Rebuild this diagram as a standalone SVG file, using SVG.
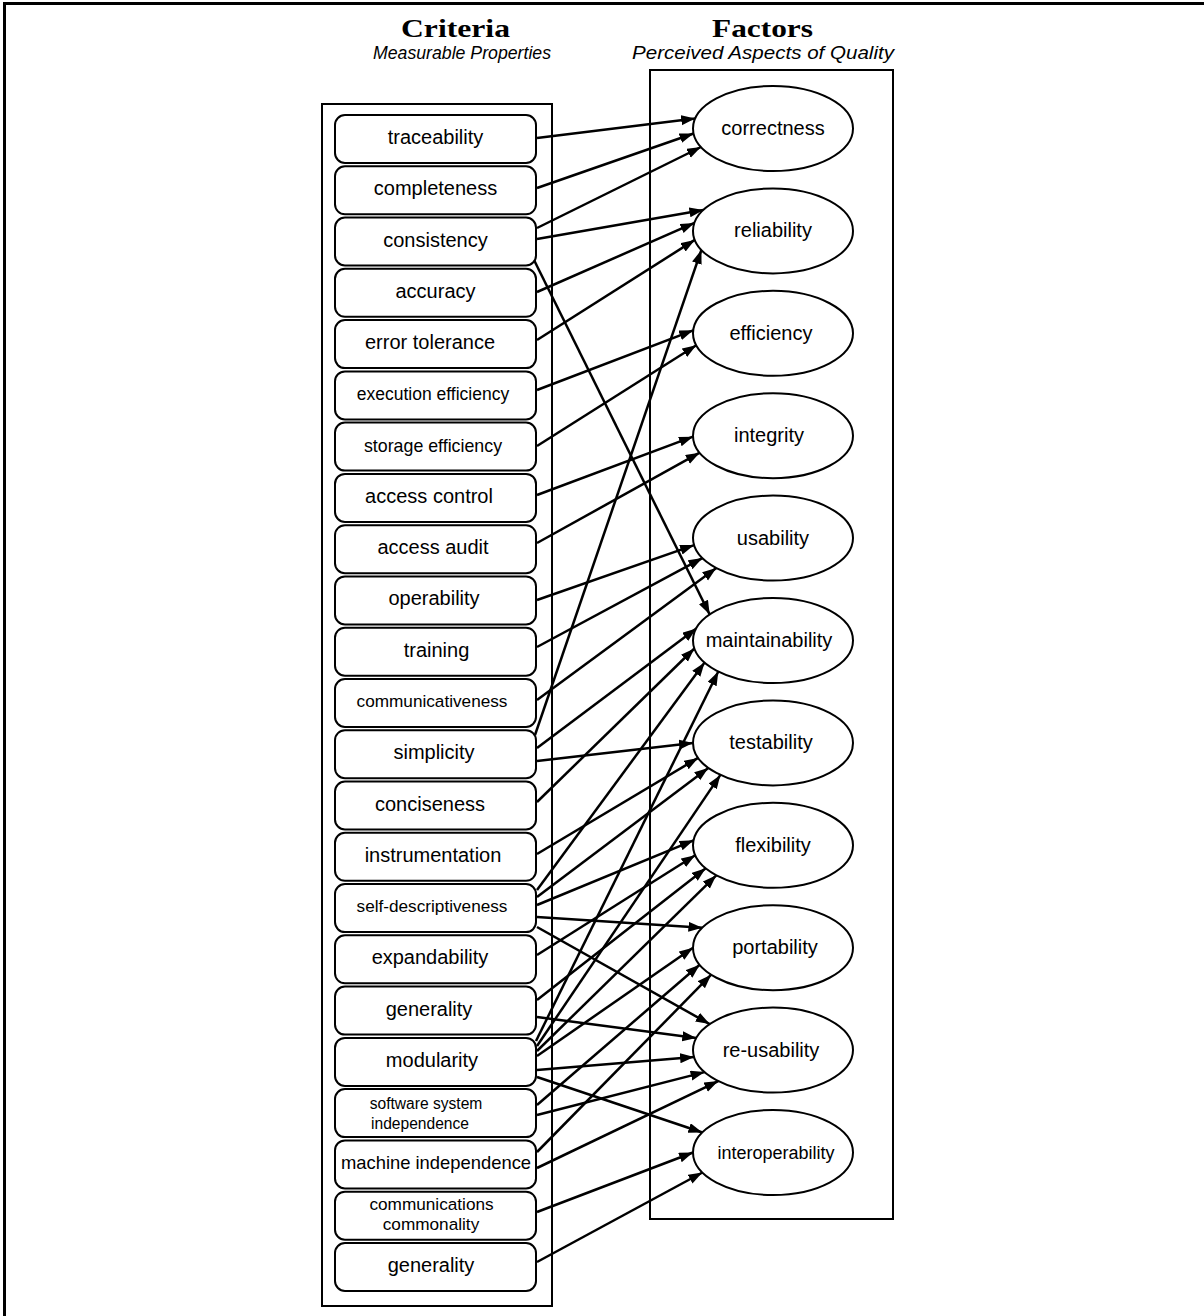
<svg xmlns="http://www.w3.org/2000/svg" width="1204" height="1316" viewBox="0 0 1204 1316">
<style>
.frame{fill:none;stroke:#000;stroke-width:3}
.cont{fill:none;stroke:#000;stroke-width:2}
.box{fill:#fff;stroke:#000;stroke-width:2}
.ell{fill:#fff;stroke:#000;stroke-width:2}
.lbl{font-family:"Liberation Sans",Arial,sans-serif;font-size:20px;fill:#000;text-anchor:middle}
.title{font-family:"Liberation Serif","Times New Roman",serif;font-weight:bold;font-size:25px;fill:#000;text-anchor:middle}
.sub{font-family:"Liberation Sans",Arial,sans-serif;font-style:italic;font-size:18px;fill:#000;text-anchor:middle}
.edge{fill:none;stroke:#000;stroke-width:2.5}
</style>
<defs>
<marker id="arr" markerUnits="userSpaceOnUse" markerWidth="16" markerHeight="12" refX="14" refY="5" orient="auto">
<path d="M0,0 L14,5 L0,10 z" fill="#000"/>
</marker>
</defs>
<rect width="1204" height="1316" fill="#fff"/>
<g id="page-frame">
<line x1="3" y1="3.5" x2="1204" y2="3.5" class="frame"/>
<line x1="4.5" y1="2" x2="4.5" y2="1316" class="frame"/>
</g>
<g id="titles">
<text x="455.5" y="37" class="title" textLength="109" lengthAdjust="spacingAndGlyphs">Criteria</text>
<text x="462" y="59" class="sub" textLength="178" lengthAdjust="spacingAndGlyphs">Measurable Properties</text>
<text x="762.5" y="37" class="title" textLength="101" lengthAdjust="spacingAndGlyphs">Factors</text>
<text x="763" y="59" class="sub" textLength="262" lengthAdjust="spacingAndGlyphs">Perceived Aspects of Quality</text>
</g>
<g id="containers">
<rect id="criteria-cluster" x="322" y="104" width="230" height="1202" class="cont"/>
<rect id="factors-cluster" x="650" y="70" width="243" height="1149" class="cont"/>
</g>
<g id="connectors">
<line class="edge" marker-end="url(#arr)" x1="537" y1="138" x2="695.2" y2="118.5"/>
<line class="edge" marker-end="url(#arr)" x1="537" y1="188" x2="693.6" y2="133.5"/>
<line class="edge" marker-end="url(#arr)" x1="537" y1="228" x2="701" y2="147"/>
<line class="edge" marker-end="url(#arr)" x1="537" y1="239" x2="703.4" y2="209.9"/>
<line class="edge" marker-end="url(#arr)" x1="537" y1="292" x2="694.4" y2="222.9"/>
<line class="edge" marker-end="url(#arr)" x1="537" y1="340" x2="694.8" y2="239.9"/>
<line class="edge" marker-end="url(#arr)" x1="535" y1="735" x2="701.4" y2="249.9"/>
<line class="edge" marker-end="url(#arr)" x1="537" y1="390" x2="693.2" y2="330.3"/>
<line class="edge" marker-end="url(#arr)" x1="537" y1="446" x2="696.3" y2="345.3"/>
<line class="edge" marker-end="url(#arr)" x1="537" y1="495" x2="693" y2="436.7"/>
<line class="edge" marker-end="url(#arr)" x1="537" y1="543" x2="699.7" y2="452.7"/>
<line class="edge" marker-end="url(#arr)" x1="537" y1="600" x2="694.1" y2="545.1"/>
<line class="edge" marker-end="url(#arr)" x1="537" y1="647" x2="702.4" y2="558.1"/>
<line class="edge" marker-end="url(#arr)" x1="537" y1="700" x2="716.3" y2="568.1"/>
<line class="edge" marker-end="url(#arr)" x1="534" y1="260" x2="709.7" y2="614.5"/>
<line class="edge" marker-end="url(#arr)" x1="537" y1="748" x2="696.3" y2="628.5"/>
<line class="edge" marker-end="url(#arr)" x1="537" y1="802" x2="694.4" y2="648.5"/>
<line class="edge" marker-end="url(#arr)" x1="537" y1="890" x2="704.6" y2="662.5"/>
<line class="edge" marker-end="url(#arr)" x1="536" y1="1041" x2="718.3" y2="671.5"/>
<line class="edge" marker-end="url(#arr)" x1="537" y1="761" x2="693" y2="742.9"/>
<line class="edge" marker-end="url(#arr)" x1="537" y1="854" x2="698.1" y2="757.9"/>
<line class="edge" marker-end="url(#arr)" x1="537" y1="897" x2="708.3" y2="767.9"/>
<line class="edge" marker-end="url(#arr)" x1="537" y1="1046" x2="720.4" y2="774.9"/>
<line class="edge" marker-end="url(#arr)" x1="537" y1="905" x2="693.6" y2="840.3"/>
<line class="edge" marker-end="url(#arr)" x1="537" y1="955" x2="695.2" y2="855.3"/>
<line class="edge" marker-end="url(#arr)" x1="537" y1="1000" x2="705.7" y2="868.3"/>
<line class="edge" marker-end="url(#arr)" x1="537" y1="1051" x2="716.3" y2="875.3"/>
<line class="edge" marker-end="url(#arr)" x1="537" y1="917" x2="702.4" y2="927.7"/>
<line class="edge" marker-end="url(#arr)" x1="537" y1="1056" x2="693" y2="947.7"/>
<line class="edge" marker-end="url(#arr)" x1="537" y1="1105" x2="699.7" y2="964.7"/>
<line class="edge" marker-end="url(#arr)" x1="537" y1="1152" x2="711.2" y2="974.7"/>
<line class="edge" marker-end="url(#arr)" x1="537" y1="927" x2="709.7" y2="1024.1"/>
<line class="edge" marker-end="url(#arr)" x1="537" y1="1017" x2="696.3" y2="1038.1"/>
<line class="edge" marker-end="url(#arr)" x1="537" y1="1070" x2="694.1" y2="1057.1"/>
<line class="edge" marker-end="url(#arr)" x1="537" y1="1115" x2="704.6" y2="1072.1"/>
<line class="edge" marker-end="url(#arr)" x1="537" y1="1168" x2="718.3" y2="1081.1"/>
<line class="edge" marker-end="url(#arr)" x1="537" y1="1077" x2="702.4" y2="1132.5"/>
<line class="edge" marker-end="url(#arr)" x1="537" y1="1212" x2="693" y2="1152.5"/>
<line class="edge" marker-end="url(#arr)" x1="537" y1="1262" x2="702.4" y2="1172.5"/>
</g>
<g id="c-traceability"><rect x="335" y="115" width="201" height="48" rx="10" class="box"/><text x="435.5" y="144" class="lbl">traceability</text></g>
<g id="c-completeness"><rect x="335" y="166.3" width="201" height="48" rx="10" class="box"/><text x="435.5" y="195.3" class="lbl">completeness</text></g>
<g id="c-consistency"><rect x="335" y="217.5" width="201" height="48" rx="10" class="box"/><text x="435.5" y="246.5" class="lbl">consistency</text></g>
<g id="c-accuracy"><rect x="335" y="268.8" width="201" height="48" rx="10" class="box"/><text x="435.5" y="297.8" class="lbl">accuracy</text></g>
<g id="c-error-tolerance"><rect x="335" y="320.1" width="201" height="48" rx="10" class="box"/><text x="430" y="349.1" class="lbl">error tolerance</text></g>
<g id="c-execution-efficiency"><rect x="335" y="371.4" width="201" height="48" rx="10" class="box"/><text x="433" y="400.4" class="lbl" style="font-size:17.5px">execution efficiency</text></g>
<g id="c-storage-efficiency"><rect x="335" y="422.6" width="201" height="48" rx="10" class="box"/><text x="433" y="451.6" class="lbl" style="font-size:17.8px">storage efficiency</text></g>
<g id="c-access-control"><rect x="335" y="473.9" width="201" height="48" rx="10" class="box"/><text x="429" y="502.9" class="lbl">access control</text></g>
<g id="c-access-audit"><rect x="335" y="525.2" width="201" height="48" rx="10" class="box"/><text x="433" y="554.2" class="lbl">access audit</text></g>
<g id="c-operability"><rect x="335" y="576.4" width="201" height="48" rx="10" class="box"/><text x="434" y="605.4" class="lbl">operability</text></g>
<g id="c-training"><rect x="335" y="627.7" width="201" height="48" rx="10" class="box"/><text x="436.5" y="656.7" class="lbl">training</text></g>
<g id="c-communicativeness"><rect x="335" y="679" width="201" height="48" rx="10" class="box"/><text x="432" y="707" class="lbl" style="font-size:17.2px">communicativeness</text></g>
<g id="c-simplicity"><rect x="335" y="730.2" width="201" height="48" rx="10" class="box"/><text x="434" y="759.2" class="lbl">simplicity</text></g>
<g id="c-conciseness"><rect x="335" y="781.5" width="201" height="48" rx="10" class="box"/><text x="430" y="810.5" class="lbl">conciseness</text></g>
<g id="c-instrumentation"><rect x="335" y="832.8" width="201" height="48" rx="10" class="box"/><text x="433" y="861.8" class="lbl">instrumentation</text></g>
<g id="c-self-descriptiveness"><rect x="335" y="884.1" width="201" height="48" rx="10" class="box"/><text x="432" y="912.1" class="lbl" style="font-size:17.2px">self-descriptiveness</text></g>
<g id="c-expandability"><rect x="335" y="935.3" width="201" height="48" rx="10" class="box"/><text x="430" y="964.3" class="lbl">expandability</text></g>
<g id="c-generality"><rect x="335" y="986.6" width="201" height="48" rx="10" class="box"/><text x="429" y="1015.6" class="lbl">generality</text></g>
<g id="c-modularity"><rect x="335" y="1037.9" width="201" height="48" rx="10" class="box"/><text x="432" y="1066.9" class="lbl">modularity</text></g>
<g id="c-software-system-independence"><rect x="335" y="1089.1" width="201" height="48" rx="10" class="box"/><text x="426" y="1109" class="lbl" style="font-size:15.6px">software system</text><text x="420" y="1129" class="lbl" style="font-size:15.6px">independence</text></g>
<g id="c-machine-independence"><rect x="335" y="1140.4" width="201" height="48" rx="10" class="box"/><text x="436" y="1169" class="lbl" style="font-size:18.4px">machine independence</text></g>
<g id="c-communications-commonality"><rect x="335" y="1191.7" width="201" height="48" rx="10" class="box"/><text x="431.5" y="1210" class="lbl" style="font-size:17.2px">communications</text><text x="431" y="1230" class="lbl" style="font-size:17.2px">commonality</text></g>
<g id="c-generality-2"><rect x="335" y="1243" width="201" height="48" rx="10" class="box"/><text x="431" y="1272" class="lbl">generality</text></g>
<g id="f-correctness"><ellipse cx="773" cy="128.5" rx="80" ry="42.5" class="ell"/><text x="773" y="135" class="lbl">correctness</text></g>
<g id="f-reliability"><ellipse cx="773" cy="230.9" rx="80" ry="42.5" class="ell"/><text x="773" y="237.4" class="lbl">reliability</text></g>
<g id="f-efficiency"><ellipse cx="773" cy="333.3" rx="80" ry="42.5" class="ell"/><text x="771" y="339.8" class="lbl">efficiency</text></g>
<g id="f-integrity"><ellipse cx="773" cy="435.7" rx="80" ry="42.5" class="ell"/><text x="769" y="442.2" class="lbl">integrity</text></g>
<g id="f-usability"><ellipse cx="773" cy="538.1" rx="80" ry="42.5" class="ell"/><text x="773" y="544.6" class="lbl">usability</text></g>
<g id="f-maintainability"><ellipse cx="773" cy="640.5" rx="80" ry="42.5" class="ell"/><text x="769" y="647" class="lbl">maintainability</text></g>
<g id="f-testability"><ellipse cx="773" cy="742.9" rx="80" ry="42.5" class="ell"/><text x="771" y="749.4" class="lbl">testability</text></g>
<g id="f-flexibility"><ellipse cx="773" cy="845.3" rx="80" ry="42.5" class="ell"/><text x="773" y="851.8" class="lbl">flexibility</text></g>
<g id="f-portability"><ellipse cx="773" cy="947.7" rx="80" ry="42.5" class="ell"/><text x="775" y="954.2" class="lbl">portability</text></g>
<g id="f-re-usability"><ellipse cx="773" cy="1050.1" rx="80" ry="42.5" class="ell"/><text x="771" y="1056.6" class="lbl">re-usability</text></g>
<g id="f-interoperability"><ellipse cx="773" cy="1152.5" rx="80" ry="42.5" class="ell"/><text x="776" y="1159" class="lbl" style="font-size:18px">interoperability</text></g>
</svg>
